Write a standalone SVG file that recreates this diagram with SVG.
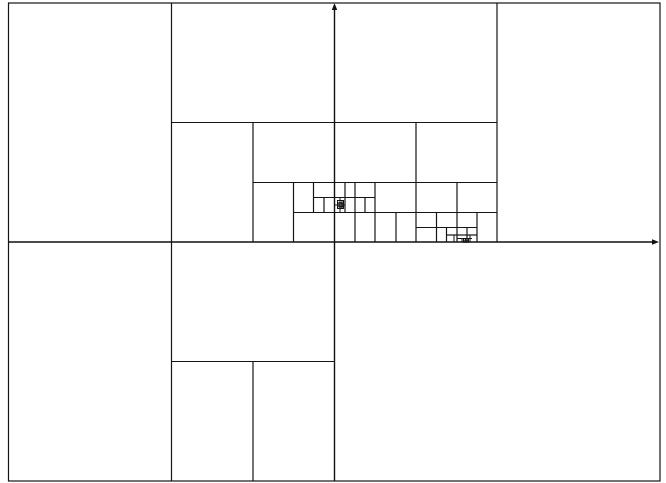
<svg xmlns="http://www.w3.org/2000/svg" width="666" height="483" viewBox="0 0 666 483">
<style>
  .cell { fill: none; stroke: #151515; stroke-width: 1.2; }
  .fine { fill: none; stroke: #151515; stroke-width: 1; }
  .axis { fill: none; stroke: #111; stroke-width: 1.4; }
  .head { fill: #111; stroke: none; }
</style>
<rect width="666" height="483" fill="#fff"/>
<g id="partition">
  <rect class="cell" x="8.5" y="3" width="651.5" height="478"/>
  <line class="cell" x1="171.5" y1="3" x2="171.5" y2="481"/>
  <line class="cell" x1="497" y1="3" x2="497" y2="242"/>
  <line class="cell" x1="171.5" y1="122.5" x2="497" y2="122.5"/>
  <line class="cell" x1="171.5" y1="361.5" x2="334.5" y2="361.5"/>
  <line class="cell" x1="253" y1="361.5" x2="253" y2="481"/>
  <line class="cell" x1="253" y1="122.5" x2="253" y2="242"/>
  <line class="cell" x1="416" y1="122.5" x2="416" y2="242"/>
  <line class="cell" x1="253" y1="182.5" x2="497" y2="182.5"/>
  <line class="cell" x1="293.5" y1="182.5" x2="293.5" y2="242"/>
  <line class="cell" x1="293.5" y1="212.5" x2="497" y2="212.5"/>
  <line class="cell" x1="313.5" y1="182.5" x2="313.5" y2="212.5"/>
  <line class="cell" x1="355" y1="182.5" x2="355" y2="242"/>
  <line class="cell" x1="375" y1="182.5" x2="375" y2="242"/>
  <line class="cell" x1="345" y1="182.5" x2="345" y2="212.5"/>
  <line class="cell" x1="313.5" y1="197.5" x2="375" y2="197.5"/>
  <line class="cell" x1="324" y1="197.5" x2="324" y2="212.5"/>
  <line class="cell" x1="365" y1="197.5" x2="365" y2="212.5"/>
  <line class="cell" x1="457" y1="182.5" x2="457" y2="242"/>
  <line class="cell" x1="396" y1="212.5" x2="396" y2="242"/>
  <line class="cell" x1="436.5" y1="212.5" x2="436.5" y2="242"/>
  <line class="cell" x1="477" y1="212.5" x2="477" y2="242"/>
  <line class="cell" x1="416" y1="227.5" x2="477" y2="227.5"/>
  <line class="cell" x1="446.5" y1="227.5" x2="446.5" y2="242"/>
  <line class="cell" x1="446.5" y1="235" x2="477" y2="235"/>
  <line class="cell" x1="467" y1="227.5" x2="467" y2="242"/>
  <line class="fine" x1="454" y1="235" x2="454" y2="242"/>
</g>
<g id="cluster-a">
  <line class="fine" x1="340" y1="197.5" x2="340" y2="212.5"/>
  <line class="fine" x1="334.5" y1="205" x2="345" y2="205"/>
  <rect class="fine" x="337.5" y="200.5" width="6" height="8"/>
  <line class="fine" x1="337.5" y1="203" x2="343.5" y2="203"/>
  <line class="fine" x1="342" y1="200.5" x2="342" y2="208.5"/>
  <rect class="fine" x="339" y="203" width="3" height="4"/>
  <line class="fine" x1="338.5" y1="206.5" x2="343" y2="206.5"/>
</g>
<g id="cluster-b">
  <line class="fine" x1="457" y1="238.5" x2="472" y2="238.5"/>
  <line class="fine" x1="462" y1="238.5" x2="462" y2="242"/>
  <line class="fine" x1="470" y1="235" x2="470" y2="242"/>
  <rect class="fine" x="463.5" y="238.5" width="5" height="3.5"/>
  <line class="fine" x1="465.5" y1="238.5" x2="465.5" y2="242"/>
  <line class="fine" x1="463.5" y1="240.2" x2="468.5" y2="240.2"/>
</g>
<g id="axes">
  <line class="axis" x1="334.5" y1="481" x2="334.5" y2="6"/>
  <polygon class="head" points="334.5,3 331.8,10 337.2,10"/>
  <line class="axis" x1="8.5" y1="242" x2="655" y2="242"/>
  <polygon class="head" points="659,242 652,239.3 652,244.7"/>
</g>
</svg>
